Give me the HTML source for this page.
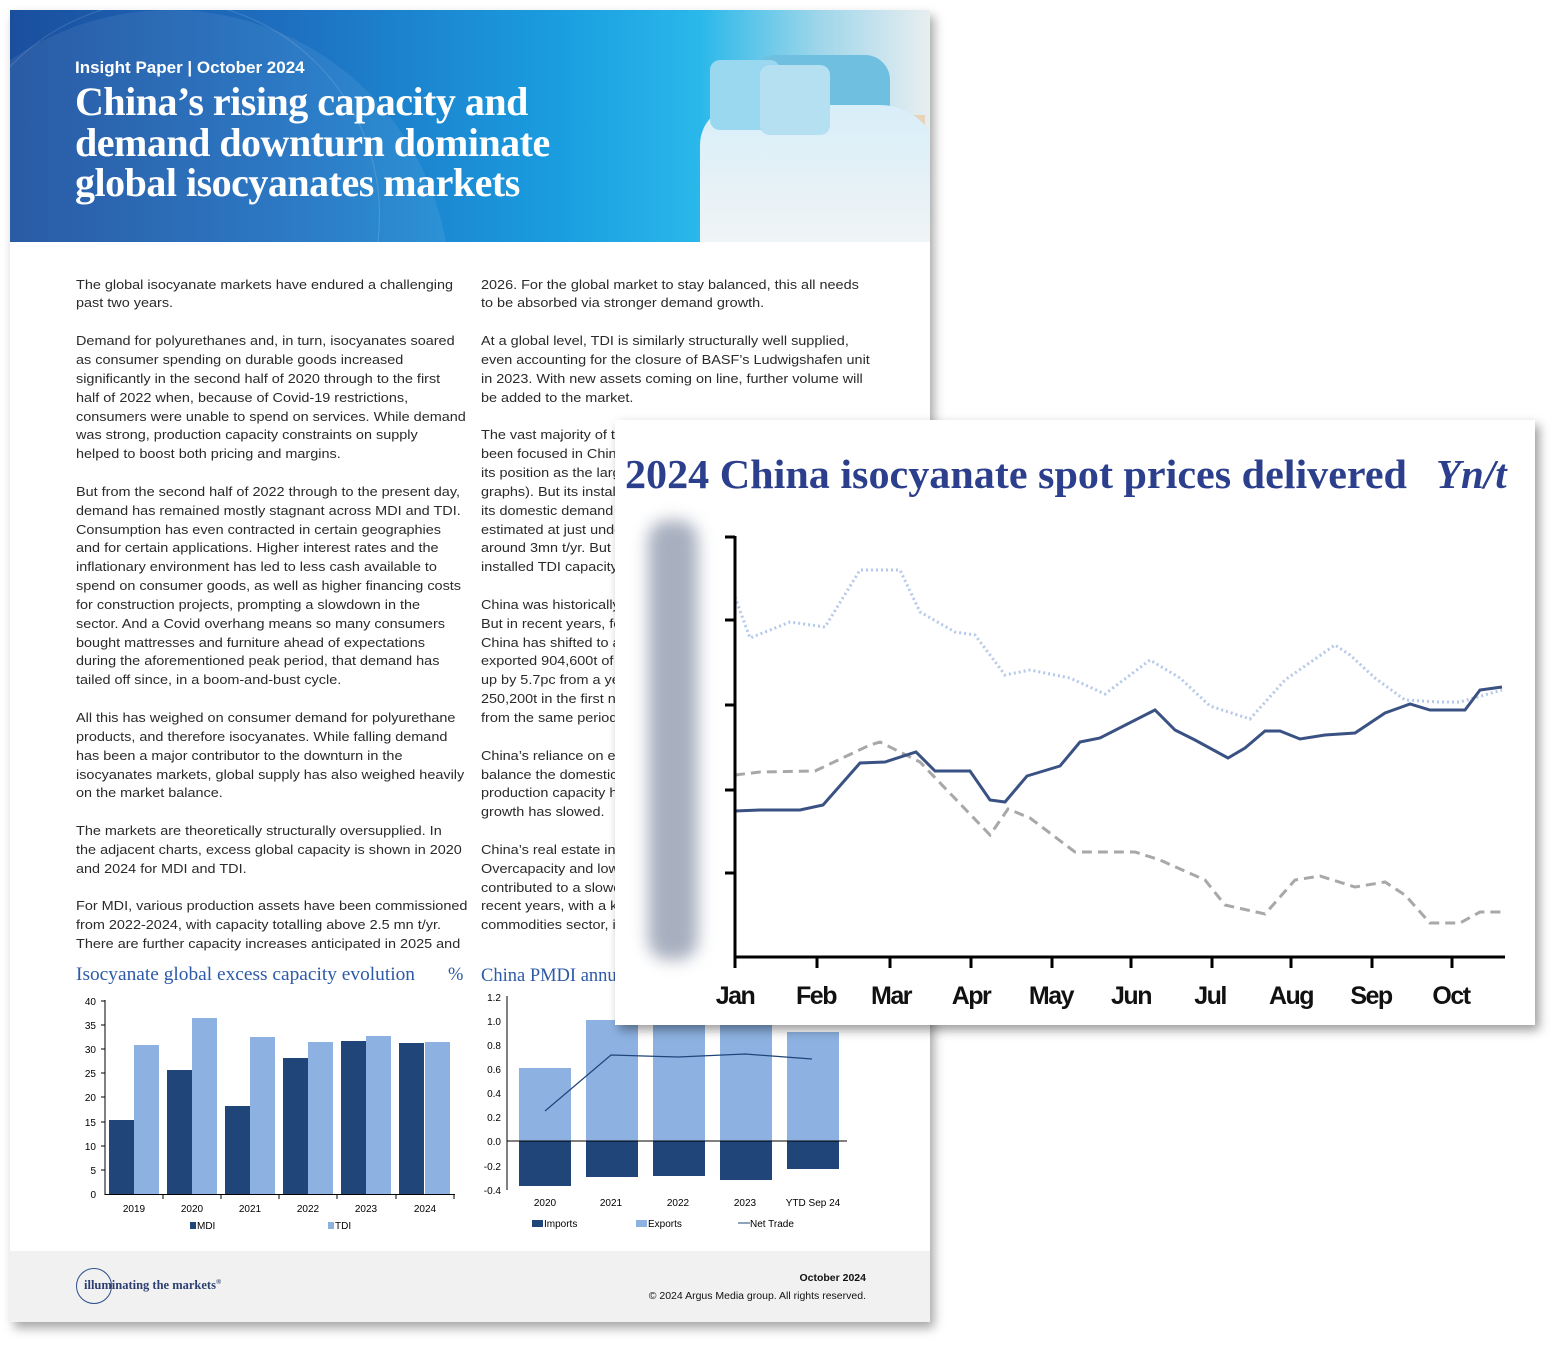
<!DOCTYPE html>
<html><head><meta charset="utf-8">
<style>
*{margin:0;padding:0;box-sizing:border-box}
body{width:1565px;height:1351px;background:#fff;position:relative;overflow:hidden;font-family:"Liberation Sans",sans-serif}
.doc{position:absolute;left:10px;top:10px;width:920px;height:1312px;background:#fff;box-shadow:4px 6px 10px rgba(0,0,0,.35)}
.hdr{position:absolute;left:10px;top:10px;width:920px;height:232px;overflow:hidden;background:linear-gradient(90deg,#1a4f9e 0%,#1e6fc0 30%,#1a9ee0 60%,#2ab8ea 75%,#9fd6ea 88%,#e8eef0 100%)}
.col{position:absolute;font-size:13px;line-height:18.85px;color:#2a2a2a;white-space:pre;transform:scaleX(1.11);transform-origin:0 0}
.card{position:absolute;left:615px;top:420px;width:920px;height:605px;background:#fff;box-shadow:4px 5px 10px rgba(0,0,0,.4)}
</style></head><body>
<div class="doc"></div>
<div class="hdr">
  <div style="position:absolute;left:-120px;top:0px;width:560px;height:560px;border-radius:50%;background:rgba(255,255,255,0.07)"></div>
  <div style="position:absolute;left:-60px;top:-10px;width:430px;height:430px;border-radius:50%;border:1px solid rgba(255,255,255,0.15)"></div>
  <div style="position:absolute;left:740px;top:45px;width:140px;height:90px;border-radius:25px 25px 0 0;background:#6fbfe0"></div>
  <div style="position:absolute;left:860px;top:105px;width:55px;height:35px;background:#e6d3b8"></div>
  <div style="position:absolute;left:690px;top:95px;width:240px;height:140px;border-radius:40px 60px 0 0;background:linear-gradient(180deg,#d8eef8,#f0f4f6)"></div>
  <div style="position:absolute;left:700px;top:50px;width:70px;height:70px;border-radius:10px;background:#9ad8f0"></div>
  <div style="position:absolute;left:750px;top:55px;width:70px;height:70px;border-radius:10px;background:#b4e0f2"></div>
  <div style="position:absolute;left:65px;top:48px;color:#fff;font-weight:bold;font-size:17px">Insight Paper | October 2024</div>
  <div style="position:absolute;left:65px;top:72px;color:#fff;font-family:'Liberation Serif',serif;font-weight:bold;font-size:40px;line-height:40.5px;letter-spacing:-0.5px">China’s rising capacity and<br>demand downturn dominate<br>global isocyanates markets</div>
</div>

<div class="col" style="left:76px;top:275.6px">The global isocyanate markets have endured a challenging
past two years.

Demand for polyurethanes and, in turn, isocyanates soared
as consumer spending on durable goods increased
significantly in the second half of 2020 through to the first
half of 2022 when, because of Covid-19 restrictions,
consumers were unable to spend on services. While demand
was strong, production capacity constraints on supply
helped to boost both pricing and margins.

But from the second half of 2022 through to the present day,
demand has remained mostly stagnant across MDI and TDI.
Consumption has even contracted in certain geographies
and for certain applications. Higher interest rates and the
inflationary environment has led to less cash available to
spend on consumer goods, as well as higher financing costs
for construction projects, prompting a slowdown in the
sector. And a Covid overhang means so many consumers
bought mattresses and furniture ahead of expectations
during the aforementioned peak period, that demand has
tailed off since, in a boom-and-bust cycle.

All this has weighed on consumer demand for polyurethane
products, and therefore isocyanates. While falling demand
has been a major contributor to the downturn in the
isocyanates markets, global supply has also weighed heavily
on the market balance.

The markets are theoretically structurally oversupplied. In
the adjacent charts, excess global capacity is shown in 2020
and 2024 for MDI and TDI.

For MDI, various production assets have been commissioned
from 2022-2024, with capacity totalling above 2.5 mn t/yr.
There are further capacity increases anticipated in 2025 and</div>

<div class="col" style="left:481px;top:275.6px">2026. For the global market to stay balanced, this all needs
to be absorbed via stronger demand growth.

At a global level, TDI is similarly structurally well supplied,
even accounting for the closure of BASF’s Ludwigshafen unit
in 2023. With new assets coming on line, further volume will
be added to the market.

The vast majority of the
been focused in China
its position as the largest
graphs). But its installed
its domestic demand
estimated at just under
around 3mn t/yr. But
installed TDI capacity

China was historically
But in recent years, for
China has shifted to a
exported 904,600t of
up by 5.7pc from a year
250,200t in the first nine
from the same period

China’s reliance on exports
balance the domestic
production capacity has
growth has slowed.

China’s real estate industry
Overcapacity and low
contributed to a slowdown
recent years, with a key
commodities sector, in</div>

<svg style="position:absolute;left:0;top:0" width="1565" height="1351">
  <g font-family="Liberation Serif,serif" fill="#2d5aa8" font-size="18.5">
    <text x="76" y="980" textLength="339" lengthAdjust="spacingAndGlyphs">Isocyanate global excess capacity evolution</text>
    <text x="448" y="980">%</text>
    <text x="481" y="981">China PMDI annual trade</text>
  </g>
  <g font-family="Liberation Sans,sans-serif" font-size="10" fill="#000" text-anchor="end">
    <text x="96" y="1005">40</text><text x="96" y="1029">35</text><text x="96" y="1053">30</text><text x="96" y="1077">25</text><text x="96" y="1101">20</text><text x="96" y="1126">15</text><text x="96" y="1150">10</text><text x="96" y="1174">5</text><text x="96" y="1198">0</text>
  </g>
  <g fill="#1f4579">
    <rect x="109" y="1120" width="25" height="74"/><rect x="167" y="1070" width="25" height="124"/><rect x="225" y="1106" width="25" height="88"/><rect x="283" y="1058" width="25" height="136"/><rect x="341" y="1041" width="25" height="153"/><rect x="399" y="1043" width="25" height="151"/>
  </g>
  <g fill="#8db2e2">
    <rect x="134" y="1045" width="25" height="149"/><rect x="192" y="1018" width="25" height="176"/><rect x="250" y="1037" width="25" height="157"/><rect x="308" y="1042" width="25" height="152"/><rect x="366" y="1036" width="25" height="158"/><rect x="425" y="1042" width="25" height="152"/>
  </g>
  <g stroke="#000" stroke-width="1">
    <line x1="105" y1="1000" x2="105" y2="1195"/><line x1="105" y1="1194.5" x2="455" y2="1194.5"/>
    <line x1="101" y1="1001" x2="105" y2="1001"/><line x1="101" y1="1025" x2="105" y2="1025"/><line x1="101" y1="1049" x2="105" y2="1049"/><line x1="101" y1="1073" x2="105" y2="1073"/><line x1="101" y1="1097" x2="105" y2="1097"/><line x1="101" y1="1122" x2="105" y2="1122"/><line x1="101" y1="1146" x2="105" y2="1146"/><line x1="101" y1="1170" x2="105" y2="1170"/>
    <line x1="163" y1="1194" x2="163" y2="1199"/><line x1="221" y1="1194" x2="221" y2="1199"/><line x1="279" y1="1194" x2="279" y2="1199"/><line x1="337" y1="1194" x2="337" y2="1199"/><line x1="396" y1="1194" x2="396" y2="1199"/><line x1="454" y1="1194" x2="454" y2="1199"/>
  </g>
  <g font-family="Liberation Sans,sans-serif" font-size="10" fill="#000" text-anchor="middle">
    <text x="134" y="1212">2019</text><text x="192" y="1212">2020</text><text x="250" y="1212">2021</text><text x="308" y="1212">2022</text><text x="366" y="1212">2023</text><text x="425" y="1212">2024</text>
  </g>
  <rect x="190" y="1222" width="6" height="7" fill="#1f4579"/><text x="197" y="1229" font-family="Liberation Sans,sans-serif" font-size="10">MDI</text>
  <rect x="328" y="1222" width="6" height="7" fill="#8db2e2"/><text x="335" y="1229" font-family="Liberation Sans,sans-serif" font-size="10">TDI</text>

  <g font-family="Liberation Sans,sans-serif" font-size="10" fill="#000" text-anchor="end">
    <text x="501" y="1001">1.2</text><text x="501" y="1025">1.0</text><text x="501" y="1049">0.8</text><text x="501" y="1073">0.6</text><text x="501" y="1097">0.4</text><text x="501" y="1121">0.2</text><text x="501" y="1145">0.0</text><text x="501" y="1170">-0.2</text><text x="501" y="1194">-0.4</text>
  </g>
  <g fill="#8db2e2">
    <rect x="519" y="1068" width="52" height="73"/><rect x="586" y="1020" width="52" height="121"/><rect x="653" y="1020" width="52" height="121"/><rect x="720" y="1020" width="52" height="121"/><rect x="787" y="1032" width="52" height="109"/>
  </g>
  <g fill="#1f4579">
    <rect x="519" y="1141" width="52" height="45"/><rect x="586" y="1141" width="52" height="36"/><rect x="653" y="1141" width="52" height="35"/><rect x="720" y="1141" width="52" height="39"/><rect x="787" y="1141" width="52" height="28"/>
  </g>
  <polyline points="545,1111 611,1055 678,1057 745,1054 812,1059" fill="none" stroke="#1f4579" stroke-width="1.2"/>
  <g stroke="#000" stroke-width="1">
    <line x1="507" y1="996" x2="507" y2="1190"/><line x1="507" y1="1141" x2="847" y2="1141"/>
  </g>
  <g font-family="Liberation Sans,sans-serif" font-size="10" fill="#000" text-anchor="middle">
    <text x="545" y="1206">2020</text><text x="611" y="1206">2021</text><text x="678" y="1206">2022</text><text x="745" y="1206">2023</text><text x="813" y="1206">YTD Sep 24</text>
  </g>
  <g font-family="Liberation Sans,sans-serif" font-size="10">
    <rect x="532" y="1220" width="11" height="7" fill="#1f4579"/><text x="544" y="1227">Imports</text>
    <rect x="636" y="1220" width="11" height="7" fill="#8db2e2"/><text x="648" y="1227">Exports</text>
    <line x1="738" y1="1223" x2="750" y2="1223" stroke="#1f4579"/><text x="750" y="1227">Net Trade</text>
  </g>
</svg>

<div style="position:absolute;left:10px;top:1251px;width:920px;height:71px;background:#f1f1f1"></div>
<div style="position:absolute;left:76px;top:1268px;width:36px;height:36px;border-radius:50%;border:1.5px solid #2d4f8c"></div>
<div style="position:absolute;left:84px;top:1278px;font-family:'Liberation Serif',serif;font-weight:bold;font-size:12.5px;color:#2d3f70">illuminating the markets<sup style="font-size:7px">®</sup></div>
<div style="position:absolute;left:560px;width:306px;top:1269px;text-align:right;font-size:10.5px;color:#111;line-height:18px"><b>October 2024</b><br>© 2024 Argus Media group. All rights reserved.</div>

<div class="card"></div>
<div style="position:absolute;left:648px;top:520px;width:50px;height:440px;border-radius:20px;background:#a8b0bf;filter:blur(8px)"></div>
<svg style="position:absolute;left:0;top:0" width="1565" height="1351">
  <text x="625" y="488" font-family="Liberation Serif,serif" font-weight="bold" font-size="41" fill="#2b3f8c" textLength="782" lengthAdjust="spacingAndGlyphs">2024 China isocyanate spot prices delivered</text>
  <text x="1436" y="488" font-family="Liberation Serif,serif" font-style="italic" font-weight="bold" font-size="41" fill="#2b3f8c">Yn/t</text>
  <polyline fill="none" stroke="#b4c8ea" stroke-width="3" stroke-dasharray="2,3" points="735,597 750,638 790,622 825,627 860,570 900,570 920,612 955,632 975,635 1005,675 1030,670 1070,678 1105,694 1150,660 1180,678 1210,706 1250,719 1285,680 1335,645 1350,655 1375,678 1405,700 1440,702 1460,702 1502,690"/>
  <polyline fill="none" stroke="#a8a8a8" stroke-width="3" stroke-dasharray="10,6" points="735,775 760,772 815,771 870,745 880,742 920,762 990,835 1008,809 1030,818 1075,852 1110,852 1135,852 1160,860 1205,880 1225,905 1265,914 1295,880 1320,876 1355,887 1385,882 1405,895 1430,923 1460,923 1480,912 1502,912"/>
  <polyline fill="none" stroke="#3a5283" stroke-width="3" points="735,811 760,810 800,810 823,805 860,763 885,762 916,752 935,771 970,771 990,800 1005,802 1027,776 1060,766 1080,742 1100,738 1155,710 1175,730 1195,740 1228,758 1245,748 1265,731 1280,731 1300,739 1325,735 1355,733 1385,713 1410,704 1430,710 1465,710 1480,690 1502,687"/>
  <g stroke="#000" stroke-width="3">
    <line x1="735" y1="536" x2="735" y2="968"/><line x1="734" y1="957" x2="1505" y2="957"/>
    <line x1="725" y1="537" x2="735" y2="537"/><line x1="725" y1="620" x2="735" y2="620"/><line x1="725" y1="705" x2="735" y2="705"/><line x1="725" y1="790" x2="735" y2="790"/><line x1="725" y1="873" x2="735" y2="873"/>
    <line x1="817" y1="957" x2="817" y2="968"/><line x1="890" y1="957" x2="890" y2="968"/><line x1="971" y1="957" x2="971" y2="968"/><line x1="1052" y1="957" x2="1052" y2="968"/><line x1="1131" y1="957" x2="1131" y2="968"/><line x1="1212" y1="957" x2="1212" y2="968"/><line x1="1291" y1="957" x2="1291" y2="968"/><line x1="1372" y1="957" x2="1372" y2="968"/><line x1="1452" y1="957" x2="1452" y2="968"/>
  </g>
  <g font-family="Liberation Sans,sans-serif" font-weight="bold" font-size="25" fill="#111" text-anchor="middle" letter-spacing="-1.5">
    <text x="735" y="1004">Jan</text><text x="816" y="1004">Feb</text><text x="891" y="1004">Mar</text><text x="971" y="1004">Apr</text><text x="1051" y="1004">May</text><text x="1131" y="1004">Jun</text><text x="1210" y="1004">Jul</text><text x="1291" y="1004">Aug</text><text x="1371" y="1004">Sep</text><text x="1451" y="1004">Oct</text>
  </g>
</svg>
</body></html>
